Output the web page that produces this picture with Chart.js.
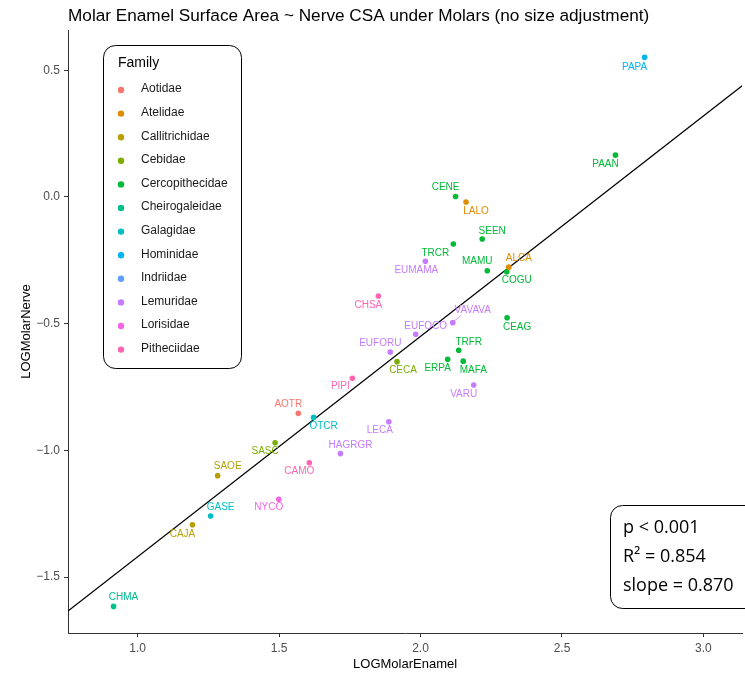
<!DOCTYPE html>
<html>
<head>
<meta charset="utf-8">
<script src="https://cdn.jsdelivr.net/npm/chart.js@4.4.1/dist/chart.umd.min.js"></script>
<style>
  html, body { margin: 0; padding: 0; background: #fff; }
  #wrap { width: 745px; height: 676px; position: relative; }
</style>
</head>
<body>
<div id="wrap"><canvas id="chart"></canvas></div>
<script>
// ---- data ----
const families = ['Aotidae', 'Atelidae', 'Callitrichidae', 'Cebidae', 'Cercopithecidae', 'Cheirogaleidae',
  'Galagidae', 'Hominidae', 'Indriidae', 'Lemuridae', 'Lorisidae', 'Pitheciidae'];

const species = ['PAPA', 'PAAN', 'CENE', 'LALO', 'SEEN', 'TRCR', 'EUMAMA', 'MAMU', 'ALCA', 'COGU',
  'CHSA', 'VAVAVA', 'CEAG', 'EUFOCO', 'EUFORU', 'TRFR', 'ERPA', 'MAFA', 'CECA', 'PIPI', 'VARU',
  'AOTR', 'OTCR', 'LECA', 'SASC', 'HAGRGR', 'CAMO', 'SAOE', 'NYCO', 'GASE', 'CAJA', 'CHMA'];

const speciesFamily = ['Hominidae', 'Cercopithecidae', 'Cercopithecidae', 'Atelidae', 'Cercopithecidae',
  'Cercopithecidae', 'Lemuridae', 'Cercopithecidae', 'Atelidae', 'Cercopithecidae',
  'Pitheciidae', 'Lemuridae', 'Cercopithecidae', 'Lemuridae', 'Lemuridae', 'Cercopithecidae',
  'Cercopithecidae', 'Cercopithecidae', 'Cebidae', 'Pitheciidae', 'Lemuridae',
  'Aotidae', 'Galagidae', 'Lemuridae', 'Cebidae', 'Lemuridae', 'Pitheciidae', 'Callitrichidae',
  'Lorisidae', 'Galagidae', 'Callitrichidae', 'Cheirogaleidae'];

const logMolarEnamel = [2.792, 2.689, 2.124, 2.161, 2.218, 2.116, 2.017, 2.236, 2.312, 2.305,
  1.851, 2.114, 2.306, 1.983, 1.893, 2.135, 2.096, 2.151, 1.917, 1.759, 2.188,
  1.568, 1.622, 1.888, 1.486, 1.717, 1.607, 1.283, 1.499, 1.258, 1.194, 0.915];

const logMolarNerve = [0.551, 0.165, 0.002, -0.020, -0.166, -0.186, -0.254, -0.291, -0.277, -0.295,
  -0.391, -0.496, -0.477, -0.542, -0.612, -0.605, -0.641, -0.648, -0.650, -0.716, -0.742,
  -0.854, -0.870, -0.887, -0.970, -1.013, -1.049, -1.100, -1.193, -1.259, -1.294, -1.616];

const xTicks = [1.0, 1.5, 2.0, 2.5, 3.0];
const yTicks = [-1.5, -1.0, -0.5, 0.0, 0.5];

// fitted model
const fitSlope = 0.870;
const fitIntercept = -2.29;
const statLines = ['p < 0.001', 'R² = 0.854', 'slope = 0.870'];

// ---- styling ----
const familyColors = ['#F8766D', '#DE8C00', '#B79F00', '#7CAE00', '#00BA38', '#00C08B',
  '#00BFC4', '#00B4F0', '#619CFF', '#C77CFF', '#F564E3', '#FF64B0'];

// label offsets from each point, in px (repelled text)
const labelNudge = {
  PAPA: [-10, 10], PAAN: [-10, 9], CENE: [-10, -9], LALO: [10, 9], SEEN: [10, -8],
  TRCR: [-18, 9], EUMAMA: [-9, 9], MAMU: [-10, -9], ALCA: [10, -9], COGU: [10, 9],
  CHSA: [-10, 9], VAVAVA: [20, -12], CEAG: [10, 9], EUFOCO: [10, -8], EUFORU: [-10, -9],
  TRFR: [10, -8], ERPA: [-10, 9], MAFA: [10, 9], CECA: [6, 9], PIPI: [-12, 8], VARU: [-10, 9],
  AOTR: [-10, -9], OTCR: [10, 9], LECA: [-9, 9], SASC: [-10, 9], HAGRGR: [10, -8],
  CAMO: [-10, 9], SAOE: [10, -9], NYCO: [-10, 8], GASE: [10, -9], CAJA: [-10, 9], CHMA: [10, -9]
};

const FONT = '"Liberation Sans", Arial, Helvetica, sans-serif';
const xMin = 0.754, xMax = 3.137;
const yMin = -1.721, yMax = 0.659;

function colorOf(family) {
  return familyColors[families.indexOf(family)];
}

function fmtTick(v) {
  return (v < 0 ? '\u2212' : '') + Math.abs(v).toFixed(1);
}

function roundRect(ctx, x, y, w, h, r) {
  ctx.beginPath();
  ctx.moveTo(x + r, y);
  ctx.arcTo(x + w, y, x + w, y + h, r);
  ctx.arcTo(x + w, y + h, x, y + h, r);
  ctx.arcTo(x, y + h, x, y, r);
  ctx.arcTo(x, y, x + w, y, r);
  ctx.closePath();
}

// one scatter dataset per family
const familyDatasets = families.map((fam, k) => ({
  label: fam,
  type: 'scatter',
  data: species
    .map((code, i) => ({ x: logMolarEnamel[i], y: logMolarNerve[i], fam: speciesFamily[i] }))
    .filter(p => p.fam === fam),
  backgroundColor: familyColors[k],
  borderColor: familyColors[k],
  pointRadius: 2.8,
  pointHoverRadius: 2.8,
  borderWidth: 0
}));

const fitDataset = {
  label: 'fit',
  type: 'line',
  data: [xMin, xMax].map(x => ({ x: x, y: fitSlope * x + fitIntercept })),
  borderColor: '#000',
  borderWidth: 1.3,
  pointRadius: 0,
  fill: false,
  order: 1
};

// species codes next to their points
const speciesLabels = {
  id: 'speciesLabels',
  afterDatasetsDraw(chart) {
    const ctx = chart.ctx;
    const xs = chart.scales.x, ys = chart.scales.y;
    ctx.save();
    ctx.font = '10px ' + FONT;
    ctx.textAlign = 'center';
    ctx.textBaseline = 'middle';
    species.forEach((code, i) => {
      const px = xs.getPixelForValue(logMolarEnamel[i]);
      const py = ys.getPixelForValue(logMolarNerve[i]);
      const [dx, dy] = labelNudge[code];
      const col = colorOf(speciesFamily[i]);
      if (code === 'VAVAVA') {
        ctx.strokeStyle = col;
        ctx.lineWidth = 0.8;
        ctx.beginPath();
        ctx.moveTo(px + 2, py - 2);
        ctx.lineTo(px + dx - 12, py + dy + 5);
        ctx.stroke();
      }
      ctx.fillStyle = col;
      ctx.fillText(code, px + dx, py + dy);
    });
    ctx.restore();
  }
};

// title, family legend and model summary box
const decorations = {
  id: 'decorations',
  afterDraw(chart) {
    const ctx = chart.ctx;
    ctx.save();

    ctx.fillStyle = '#000';
    ctx.font = '17.2px ' + FONT;
    ctx.textAlign = 'left';
    ctx.textBaseline = 'middle';
    ctx.fillText('Molar Enamel Surface Area ~ Nerve CSA under Molars (no size adjustment)', 68, 16);

    // legend
    ctx.fillStyle = '#fff';
    roundRect(ctx, 103.5, 45.5, 138, 323, 12);
    ctx.fill();
    ctx.strokeStyle = '#000';
    ctx.lineWidth = 1;
    ctx.stroke();
    ctx.fillStyle = '#000';
    ctx.font = '14px ' + FONT;
    ctx.fillText('Family', 118, 63);
    ctx.font = '12px ' + FONT;
    families.forEach((fam, k) => {
      const yy = 89 + k * 23.6;
      ctx.fillStyle = familyColors[k];
      ctx.beginPath();
      ctx.arc(121, yy + 1, 3.2, 0, Math.PI * 2);
      ctx.fill();
      ctx.fillStyle = '#1a1a1a';
      ctx.fillText(fam, 141, yy);
    });

    // stats box
    ctx.fillStyle = '#fff';
    roundRect(ctx, 610.5, 505.5, 150, 103, 12);
    ctx.fill();
    ctx.strokeStyle = '#000';
    ctx.stroke();
    ctx.fillStyle = '#000';
    ctx.font = '18px "Open Sans", ' + FONT;
    ctx.textBaseline = 'alphabetic';
    statLines.forEach((t, k) => ctx.fillText(t, 623, 533 + k * 29));

    ctx.restore();
  }
};

const axisCommon = {
  type: 'linear',
  border: { display: true, color: '#333', width: 1 },
  grid: { display: true, drawOnChartArea: false, drawTicks: true, tickLength: 4, tickColor: '#333' },
  ticks: { color: '#4d4d4d', font: { family: FONT, size: 12 }, padding: 4, callback: v => fmtTick(v) }
};

new Chart(document.getElementById('chart'), {
  data: { datasets: [fitDataset, ...familyDatasets] },
  options: {
    responsive: true,
    maintainAspectRatio: false,
    animation: false,
    layout: { padding: { top: 30, right: 0, left: 0, bottom: 0 } },
    plugins: { legend: { display: false }, tooltip: { enabled: false } },
    scales: {
      x: {
        ...axisCommon,
        min: xMin, max: xMax,
        afterBuildTicks: s => { s.ticks = xTicks.map(v => ({ value: v })); },
        afterFit: s => { s.height = 43; s.paddingLeft = 0; s.paddingRight = 0; },
        title: { display: true, text: 'LOGMolarEnamel', color: '#000', font: { family: FONT, size: 13 }, padding: { top: 0, bottom: 4 } }
      },
      y: {
        ...axisCommon,
        min: yMin, max: yMax,
        afterBuildTicks: s => { s.ticks = yTicks.map(v => ({ value: v })); },
        afterFit: s => { s.width = 68; s.paddingTop = 0; s.paddingBottom = 0; },
        title: { display: true, text: 'LOGMolarNerve', color: '#000', font: { family: FONT, size: 13 }, padding: { top: 19, bottom: 0 } }
      }
    }
  },
  plugins: [speciesLabels, decorations]
});
</script>
</body>
</html>
